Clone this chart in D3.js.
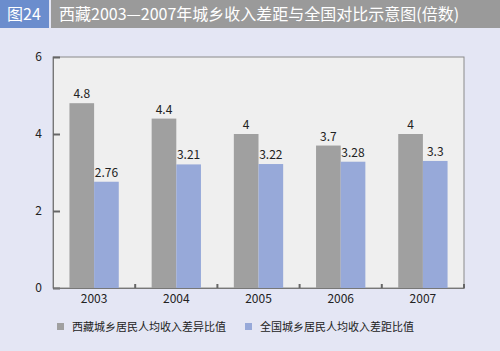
<!DOCTYPE html>
<html>
<head>
<meta charset="utf-8">
<script src="https://cdn.jsdelivr.net/npm/d3@7"></script>
<style>
  body { margin: 0; background: #e4e6f4; }
  svg { display: block; font-family: "Noto Sans CJK SC", "Liberation Sans", sans-serif; }
</style>
</head>
<body>
<div id="chart"></div>
<script>
// data
const years = ['2003', '2004', '2005', '2006', '2007']
const tibet = [4.8, 4.4, 4, 3.7, 4]
const national = [2.76, 3.21, 3.22, 3.28, 3.3]
const seriesNames = ['西藏城乡居民人均收入差异比值', '全国城乡居民人均收入差距比值']
const yTicks = [0, 2, 4, 6]

const W = 500, H = 351
const margins = { top: 57, left: 53, right: 36, bottom: 63 }
const width = W - margins.left - margins.right
const height = H - margins.top - margins.bottom
const colors = ['#a0a0a0', '#97a9d9']
const font = '"Noto Sans CJK SC", "Liberation Sans", sans-serif'

const svg = d3.select('#chart').append('svg')
  .attr('width', W)
  .attr('height', H)

svg.append('rect').attr('width', W).attr('height', H).attr('fill', '#e4e6f4')

// title bar
svg.append('rect').attr('x', 0).attr('y', 0).attr('width', 49).attr('height', 28).attr('fill', '#6b8dcd')
svg.append('rect').attr('x', 51).attr('y', 0).attr('width', W - 51).attr('height', 28).attr('fill', '#9a9a9a')
svg.append('text').attr('x', 24).attr('y', 20).attr('text-anchor', 'middle')
  .attr('fill', '#fff').style('font-size', '16px').text('图24')
svg.append('text').attr('x', 59).attr('y', 20)
  .attr('fill', '#fff').style('font-size', '16px')
  .text('西藏2003—2007年城乡收入差距与全国对比示意图(倍数)')

const g = svg.append('g')
  .attr('transform', `translate(${margins.left}, ${margins.top})`)

g.append('rect')
  .attr('width', width).attr('height', height)
  .attr('fill', '#efefef')
  .attr('stroke', '#8a8a8a')

const x = d3.scaleBand().domain(years).range([0, width]).paddingInner(0.4).paddingOuter(0.2)
const x1 = d3.scaleBand().domain([0, 1]).range([0, x.bandwidth()])
const y = d3.scaleLinear().domain([0, 6]).range([height, 0])

// bars
const groups = g.selectAll('.grp')
  .data(years.map((yr, i) => ({ yr, vals: [tibet[i], national[i]] })))
  .enter().append('g')
  .attr('transform', d => `translate(${x(d.yr)}, 0)`)

groups.selectAll('rect')
  .data(d => d.vals)
  .enter().append('rect')
  .attr('x', (d, i) => x1(i))
  .attr('width', x1.bandwidth())
  .attr('y', d => y(d))
  .attr('height', d => height - y(d))
  .attr('fill', (d, i) => colors[i])

groups.selectAll('text')
  .data(d => d.vals)
  .enter().append('text')
  .attr('x', (d, i) => x1(i) + x1.bandwidth() / 2)
  .attr('y', d => y(d) - 5)
  .attr('text-anchor', 'middle')
  .attr('fill', '#222')
  .style('font-size', '12px')
  .text(d => d)

// y axis
const yAxis = g.append('g')
  .call(d3.axisLeft(y).tickValues(yTicks).tickFormat(d3.format('d')).tickSize(-7).tickPadding(11))
yAxis.select('.domain').attr('stroke', '#777')
yAxis.selectAll('.tick line').attr('stroke', '#666').attr('stroke-width', 2)
yAxis.selectAll('.tick text').attr('fill', '#222').style('font-size', '12px').style('font-family', font)

// x axis: labels under bands, small marks between bands
const xAxis = g.append('g')
  .attr('transform', `translate(0, ${height})`)
  .call(d3.axisBottom(x).tickSize(0).tickPadding(6))
xAxis.select('.domain').attr('stroke', '#777')
xAxis.selectAll('.tick text').attr('fill', '#222').style('font-size', '12px').style('font-family', font)

// band boundaries sit at multiples of the step (outer padding = inner / 2)
g.selectAll('.xmark')
  .data(d3.range(1, years.length + 1))
  .enter().append('line')
  .attr('x1', i => i * x.step())
  .attr('x2', i => i * x.step())
  .attr('y1', height)
  .attr('y2', height - 4)
  .attr('stroke', '#666')
  .attr('stroke-width', 2)

// legend
const legend = svg.append('g').attr('transform', 'translate(0, 327)')
const legendX = [57, 245]
seriesNames.forEach((name, i) => {
  legend.append('rect')
    .attr('x', legendX[i]).attr('y', -4)
    .attr('width', 7).attr('height', 7)
    .attr('fill', colors[i])
  legend.append('text')
    .attr('x', legendX[i] + 15).attr('y', 4)
    .attr('fill', '#222')
    .style('font-size', '11px')
    .text(name)
})
</script>
</body>
</html>
